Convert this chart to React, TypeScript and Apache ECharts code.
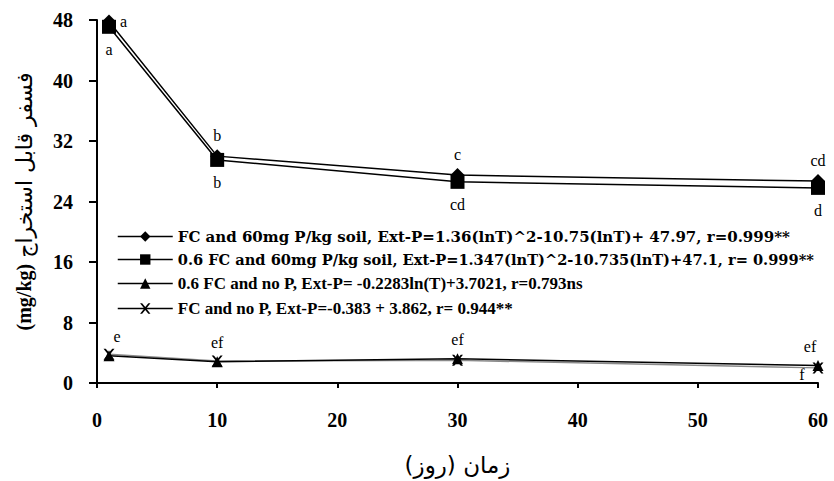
import React, { useEffect, useRef } from "react";
import * as echarts from "echarts";

const days = [1, 10, 30, 60];
const s1Values = [47.8, 30.0, 27.5, 26.7];
const s2Values = [47.1, 29.5, 26.6, 25.8];
const s3Values = [3.6, 2.8, 3.2, 2.3];
const s4Values = [3.8, 2.9, 3.0, 2.0];
const s1Letters = ["a", "b", "c", "cd"];
const s2Letters = ["a", "b", "cd", "d"];
const s3Letters = ["e", "ef", "ef", "ef"];
const s4Letters = ["", "", "", "f"];
const seriesNames = [
  "FC and 60mg P/kg soil, Ext-P=1.36(lnT)^2-10.75(lnT)+ 47.97, r=0.999**",
  "0.6 FC and 60mg P/kg soil, Ext-P=1.347(lnT)^2-10.735(lnT)+47.1, r= 0.999**",
  "0.6 FC and no P, Ext-P= -0.2283ln(T)+3.7021, r=0.793ns",
  "FC and no P, Ext-P=-0.383 + 3.862, r= 0.944**",
];
const xTicks = [0, 10, 20, 30, 40, 50, 60];
const yTicks = [0, 8, 16, 24, 32, 40, 48];

const crossPath = "path://M0,0 L2,0 L5,3.5 L8,0 L10,0 L6,5 L10,10 L8,10 L5,6.5 L2,10 L0,10 L4,5 Z";
const FONT = "Liberation Serif";

const legendText = [
  { fontFamily: "DejaVu Serif", fontWeight: "bold", fontSize: 15 },
  { fontFamily: "DejaVu Serif", fontWeight: "bold", fontSize: 14.6 },
  { fontFamily: FONT, fontWeight: "bold", fontSize: 17 },
  { fontFamily: FONT, fontWeight: "bold", fontSize: 17 },
];

export default function App() {
  const ref = useRef<HTMLDivElement>(null);
  useEffect(() => {
    if (!ref.current) return;
    const chart = echarts.init(ref.current, null, { renderer: "svg" });
    const lbl = { fontFamily: FONT, fontSize: 16, color: "#000" };
    const mk = (vals: number[], letters: string[], labelFor: (i: number) => any) =>
      vals.map((v, i) => ({
        value: [days[i], v],
        label: { show: letters[i] !== "", formatter: letters[i], ...labelFor(i) },
      }));
    chart.setOption({
      animation: false,
      backgroundColor: "#fff",
      textStyle: { fontFamily: FONT },
      grid: { left: 97, right: 16, top: 20, bottom: 93.5 },
      legend: {
        orient: "vertical",
        left: 112,
        top: 224,
        itemGap: 8,
        itemWidth: 55,
        itemHeight: 13,
        textStyle: { color: "#000" },
        data: seriesNames.map((n, i) => ({
          name: n,
          lineStyle: { color: "#000", width: 1.5 },
          itemStyle: { color: "#000" },
          textStyle: { ...legendText[i], color: "#000" },
        })),
      },
      xAxis: {
        type: "value",
        min: 0,
        max: 60,
        interval: 10,
        name: "زمان (روز)",
        nameLocation: "middle",
        nameGap: 70,
        nameTextStyle: { fontFamily: "DejaVu Sans", fontSize: 23, color: "#000" },
        axisLine: { lineStyle: { color: "#000", width: 2 } },
        axisTick: { length: 5, lineStyle: { color: "#000", width: 2 } },
        splitLine: { show: false },
        axisLabel: {
          margin: 27,
          fontFamily: FONT,
          fontWeight: "bold",
          fontSize: 20,
          color: "#000",
          formatter: (v: number) => (xTicks.includes(v) ? String(v) : ""),
        },
      },
      yAxis: {
        type: "value",
        min: 0,
        max: 48,
        interval: 8,
        name: "{b|(mg/kg)}  {p|فسفر قابل استخراج}",
        nameLocation: "middle",
        nameRotate: 90,
        nameGap: 62,
        nameTextStyle: {
          rich: {
            b: { fontFamily: FONT, fontWeight: "bold", fontSize: 20, color: "#000" },
            p: { fontFamily: "DejaVu Sans", fontSize: 22, color: "#000" },
          },
        },
        axisLine: { show: true, lineStyle: { color: "#000", width: 2 } },
        axisTick: { show: true, length: 8, lineStyle: { color: "#000", width: 2 } },
        splitLine: { show: false },
        axisLabel: {
          margin: 24,
          fontFamily: FONT,
          fontWeight: "bold",
          fontSize: 20,
          color: "#000",
          formatter: (v: number) => (yTicks.includes(v) ? String(v) : ""),
        },
      },
      series: [
        {
          name: seriesNames[0],
          type: "line",
          symbol: "diamond",
          symbolSize: 14,
          itemStyle: { color: "#000" },
          lineStyle: { color: "#000", width: 1.5 },
          label: lbl,
          data: mk(s1Values, s1Letters, (i) =>
            i === 0 ? { position: "right", distance: 4 } : { position: "top", distance: 6 }
          ),
          z: 4,
        },
        {
          name: seriesNames[1],
          type: "line",
          symbol: "rect",
          symbolSize: 14,
          itemStyle: { color: "#000" },
          lineStyle: { color: "#000", width: 1.5 },
          label: lbl,
          data: mk(s2Values, s2Letters, () => ({ position: "bottom", distance: 8 })),
          z: 3,
        },
        {
          name: seriesNames[2],
          type: "line",
          symbol: "triangle",
          symbolSize: 11,
          itemStyle: { color: "#000" },
          lineStyle: { color: "#000", width: 1.5 },
          label: lbl,
          data: mk(s3Values, s3Letters, (i) => ({
            position: "top",
            distance: 6,
            offset: i === 0 ? [8, 0] : i === 3 ? [-8, 0] : [0, 0],
          })),
          z: 4,
        },
        {
          name: seriesNames[3],
          type: "line",
          symbol: crossPath,
          symbolSize: 11,
          itemStyle: { color: "#000" },
          lineStyle: { color: "#8a8a8a", width: 1.5 },
          label: lbl,
          data: mk(s4Values, s4Letters, () => ({ position: "left", distance: 8, offset: [0, 7] })),
          z: 3,
        },
      ],
    });
    return () => chart.dispose();
  }, []);
  return (
    <div
      ref={ref}
      style={{ position: "fixed", left: 0, top: 0, width: 834, height: 481 }}
    />
  );
}
